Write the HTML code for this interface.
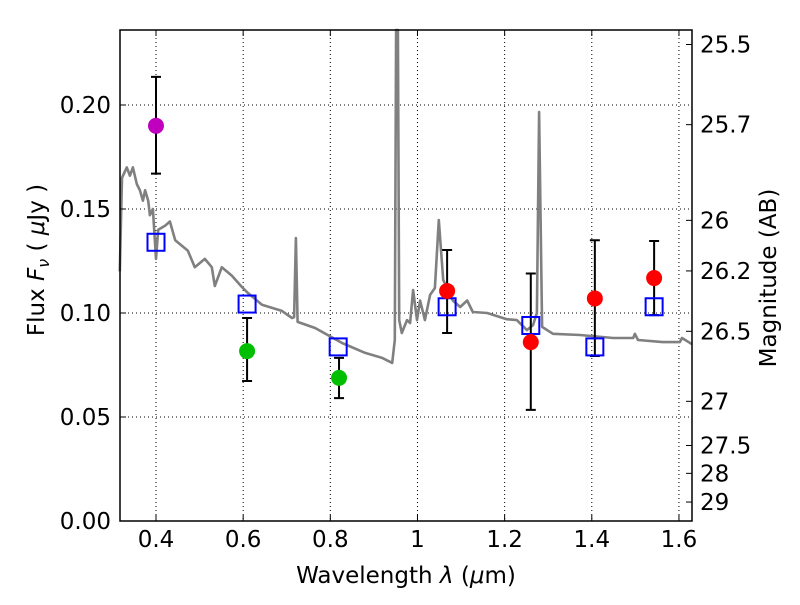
<!DOCTYPE html>
<html><head><meta charset="utf-8"><style>
body{margin:0;background:#fff;}
text{font-family:"DejaVu Sans","Liberation Sans",sans-serif;}
</style></head><body>
<svg id="chart" width="800" height="600" xmlns="http://www.w3.org/2000/svg">
<rect width="800" height="600" fill="#fff"/>
<g id="grid"></g>
<g id="spec"></g>
<g id="marks"></g>
<g id="axes"></g>
</svg>
<script>
const specLam=[0.317,0.322,0.333,0.340,0.347,0.356,0.363,0.370,0.375,0.382,0.386,0.393,0.400,0.405,0.421,0.432,0.444,0.473,0.489,0.512,0.528,0.535,0.551,0.574,0.597,0.609,0.643,0.689,0.712,0.717,0.721,0.725,0.765,0.827,0.880,0.919,0.942,0.948,0.951,0.955,0.958,0.964,0.976,0.983,0.990,0.999,1.006,1.017,1.029,1.040,1.049,1.059,1.081,1.098,1.114,1.127,1.160,1.205,1.228,1.251,1.265,1.274,1.279,1.286,1.311,1.373,1.449,1.495,1.499,1.506,1.563,1.602,1.607,1.630];
const specFlux=[0.120,0.165,0.170,0.166,0.170,0.162,0.159,0.154,0.159,0.154,0.147,0.150,0.126,0.140,0.142,0.144,0.135,0.130,0.122,0.126,0.122,0.113,0.122,0.118,0.1125,0.110,0.104,0.101,0.0976,0.098,0.136,0.0957,0.0928,0.0856,0.0808,0.0784,0.0760,0.087,0.241,0.241,0.0966,0.0904,0.0966,0.0952,0.111,0.0966,0.106,0.0966,0.1087,0.112,0.1447,0.1159,0.106,0.1029,0.106,0.1005,0.100,0.097,0.0966,0.0918,0.0942,0.100,0.1966,0.0933,0.090,0.0894,0.088,0.088,0.090,0.087,0.086,0.086,0.088,0.085];
const modelLam=[0.400,0.609,0.818,1.068,1.260,1.407,1.543];
const modelFlux=[0.134,0.1043,0.0837,0.103,0.094,0.0837,0.103];
const obsLam=[0.400,0.609,0.820,1.068,1.260,1.407,1.543];
const obsFlux=[0.190,0.0817,0.0688,0.1106,0.086,0.107,0.1168];
const obsHi=[0.2135,0.0976,0.0784,0.1303,0.119,0.135,0.1346];
const obsLo=[0.167,0.0673,0.0591,0.0904,0.0534,0.0793,0.099];
const obsColor=["#bf00bf","#00bf00","#00bf00","#ff0000","#ff0000","#ff0000","#ff0000"];
const xTicks=[0.4,0.6,0.8,1.0,1.2,1.4,1.6];
const xTickLabels=["0.4","0.6","0.8","1","1.2","1.4","1.6"];
const yTicks=[0,0.05,0.10,0.15,0.20];
const yTickLabels=["0.00","0.05","0.10","0.15","0.20"];
const magTicks=[25.5,25.7,26,26.2,26.5,27,27.5,28,29];
const magTickLabels=["25.5","25.7","26","26.2","26.5","27","27.5","28","29"];

const L=120,R=692,T=30,B=521;
const X=v=>156+(v-0.4)*435.8;
const Y=v=>521-v*2080;
const magToFlux=m=>Math.pow(10,(23.9-m)/2.5);
const NS="http://www.w3.org/2000/svg";
function mk(parent,tag,attrs){const e=document.createElementNS(NS,tag);for(const k in attrs)e.setAttribute(k,attrs[k]);document.getElementById(parent).appendChild(e);return e;}

xTicks.forEach((t,i)=>{
  const g=mk('grid','line',{x1:X(t),x2:X(t),y1:T,y2:B,stroke:'#000','stroke-width':1,'stroke-dasharray':'1,3'});
  
  
});
yTicks.forEach((t,i)=>{
  const g=mk('grid','line',{x1:L,x2:R,y1:Y(t),y2:Y(t),stroke:'#000','stroke-width':1,'stroke-dasharray':'1,3'});
  
  
});

let d='';
specLam.forEach((l,i)=>{let y=Math.max(T,Y(specFlux[i]));d+=(i?'L':'M')+X(l).toFixed(1)+','+y.toFixed(1);});
const sp=mk('spec','path',{d:d,fill:'none',stroke:'#808080','stroke-width':2.6,'stroke-linejoin':'round'});



obsLam.forEach((l,i)=>{
  const x=X(l);
  const e=mk('marks','path',{d:`M${x},${Y(obsHi[i])}V${Y(obsLo[i])}M${x-5},${Y(obsHi[i])}h10M${x-5},${Y(obsLo[i])}h10`,stroke:'#000','stroke-width':2,fill:'none'});
  
  
});
modelLam.forEach((l,i)=>{
  const s=mk('marks','rect',{x:X(l)-8.5,y:Y(modelFlux[i])-8.5,width:17,height:17,fill:'none',stroke:'#0000ff','stroke-width':2});
  
  
});
obsLam.forEach((l,i)=>{
  const c=mk('marks','circle',{cx:X(l),cy:Y(obsFlux[i]),r:8,fill:obsColor[i]});
  
  
});

const fr=mk('axes','rect',{x:L,y:T,width:R-L,height:B-T,fill:'none',stroke:'#000','stroke-width':1.5});


xTicks.forEach((t,i)=>{
  const tk=mk('axes','path',{d:`M${X(t)},${B}v-6M${X(t)},${T}v6`,stroke:'#000','stroke-width':1});
  
  
  const tx=mk('axes','text',{x:X(t),y:B+26,'font-size':23,'text-anchor':'middle'});
  tx.textContent=xTickLabels[i];
  
  
});
yTicks.forEach((t,i)=>{
  const tk=mk('axes','path',{d:`M${L},${Y(t)}h6`,stroke:'#000','stroke-width':1});
  
  
  const tx=mk('axes','text',{x:L-9,y:Y(t)+8,'font-size':23,'text-anchor':'end'});
  tx.textContent=yTickLabels[i];
  
  
});
magTicks.forEach((m,i)=>{
  const y=Y(magToFlux(m));
  const tk=mk('axes','path',{d:`M${R},${y}h-6`,stroke:'#000','stroke-width':1});
  
  
  const tx=mk('axes','text',{x:R+8,y:y+8,'font-size':23});
  tx.textContent=magTickLabels[i];
  
  
});
</script>
<svg width="800" height="600" style="position:absolute;left:0;top:0" xmlns="http://www.w3.org/2000/svg">
<text x="406" y="583" font-size="23" text-anchor="middle">Wavelength  <tspan font-style="italic">λ</tspan> (<tspan font-style="italic">μ</tspan>m)</text>
<text transform="translate(44,260) rotate(-90)" font-size="23" text-anchor="middle">Flux  <tspan font-style="italic">F</tspan><tspan font-style="italic" font-size="16" dy="5">ν</tspan><tspan dy="-5">  ( </tspan><tspan font-style="italic">μ</tspan>Jy )</text>
<text transform="translate(776,278) rotate(-90)" font-size="23" text-anchor="middle">Magnitude (AB)</text>
</svg>
</body></html>
